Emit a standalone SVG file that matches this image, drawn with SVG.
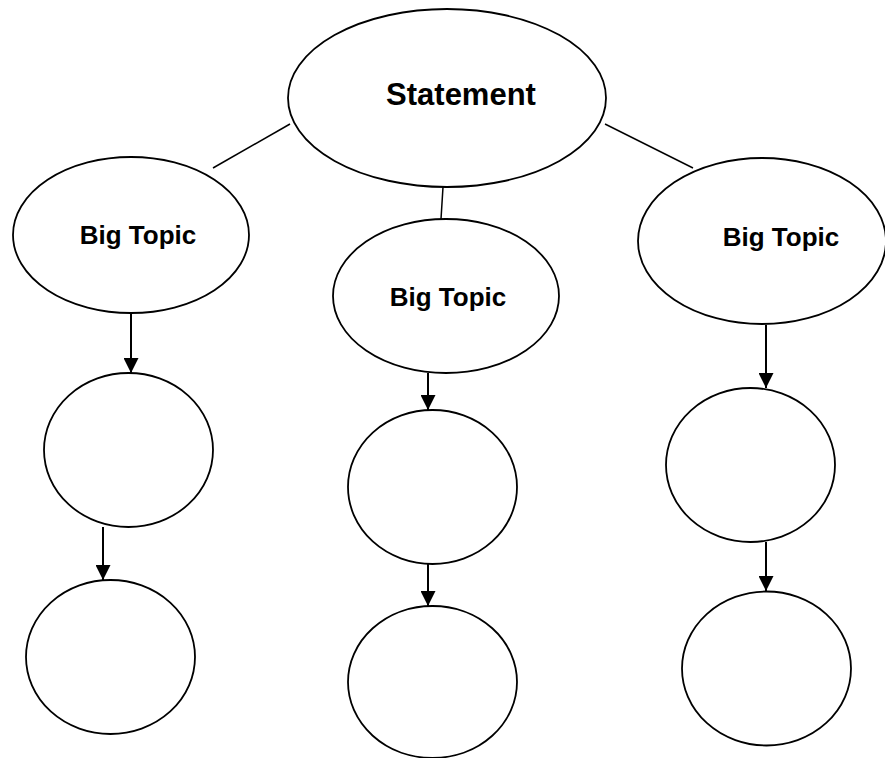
<svg xmlns="http://www.w3.org/2000/svg" width="885" height="758" viewBox="0 0 885 758">
<style>
.n{fill:#fff;stroke:#000;stroke-width:1.8}
.t{font-family:"Liberation Sans",Arial,sans-serif;font-weight:bold;fill:#000;text-anchor:middle}
.c{stroke:#000;stroke-width:1.5;fill:none}
.a{stroke:#000;stroke-width:2;fill:none;marker-end:url(#ah)}
</style>
<defs>
<marker id="ah" markerUnits="userSpaceOnUse" markerWidth="15" markerHeight="15" refX="15" refY="7.5" orient="auto" viewBox="0 0 15 15">
<path d="M0,0 L15,7.5 L0,15 z" fill="#000"/>
</marker>
</defs>
<rect width="885" height="758" fill="#fff"/>
<g id="connectors">
<line class="c" x1="213" y1="168" x2="290" y2="124"/>
<line class="c" x1="605" y1="124" x2="693" y2="168"/>
<line class="c" x1="443" y1="187" x2="441" y2="219"/>
<line class="a" x1="131" y1="313" x2="131" y2="373"/>
<line class="a" x1="103" y1="527" x2="103" y2="580"/>
<line class="a" x1="428" y1="373" x2="428" y2="410"/>
<line class="a" x1="428" y1="564" x2="428" y2="606"/>
<line class="a" x1="766" y1="325" x2="766" y2="388"/>
<line class="a" x1="766" y1="542" x2="766" y2="591"/>
</g>
<g id="statement"><ellipse class="n" cx="447" cy="98" rx="159" ry="89"/><text class="t" x="461" y="105" font-size="31">Statement</text></g>
<g id="topic-left"><ellipse class="n" cx="131" cy="235" rx="118" ry="78"/><text class="t" x="138" y="244" font-size="26">Big Topic</text></g>
<g id="topic-mid"><ellipse class="n" cx="446" cy="296" rx="113" ry="77"/><text class="t" x="448" y="306" font-size="26">Big Topic</text></g>
<g id="topic-right"><ellipse class="n" cx="762" cy="241" rx="124" ry="83"/><text class="t" x="781" y="246" font-size="26">Big Topic</text></g>
<g id="left-1"><ellipse class="n" cx="128.5" cy="450" rx="84.5" ry="77"/></g>
<g id="left-2"><ellipse class="n" cx="110.5" cy="657" rx="84.5" ry="77"/></g>
<g id="mid-1"><ellipse class="n" cx="432.5" cy="487" rx="84.5" ry="77"/></g>
<g id="mid-2"><ellipse class="n" cx="432.5" cy="682" rx="84.5" ry="76"/></g>
<g id="right-1"><ellipse class="n" cx="750.5" cy="465" rx="84.5" ry="77"/></g>
<g id="right-2"><ellipse class="n" cx="766.5" cy="668.5" rx="84.5" ry="77"/></g>
</svg>
